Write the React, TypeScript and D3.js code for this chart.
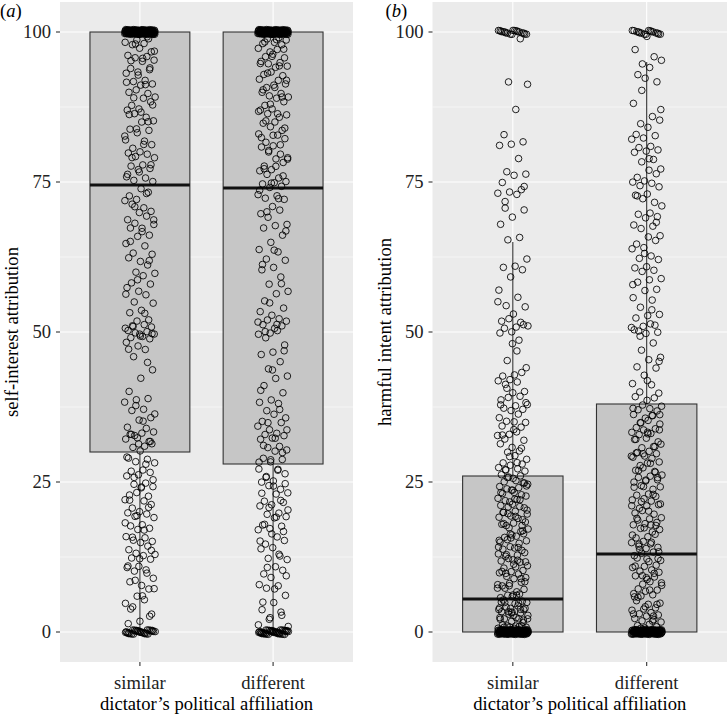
import React, { useEffect, useRef } from "react";
import * as d3 from "d3";

const groups = ["similar", "different"];
const yTicks = [0, 25, 50, 75, 100];
const yMinor = [12.5, 37.5, 62.5, 87.5];

// box statistics: [lower whisker, Q1, median, Q3, upper whisker]
const selfBox = [
  [0, 30, 74.5, 100, 100],
  [0, 28, 74, 100, 100],
];
const harmBox = [
  [0, 0, 5.5, 26, 65],
  [0, 0, 13, 38, 95],
];

// answers piled up at the ends of the scale: [count at 0, count at 100]
const selfEnds = [
  [30, 120],
  [40, 115],
];
const harmEnds = [
  [110, 18],
  [105, 16],
];

// remaining answers (between 0 and 100)
const selfSimilar = [
  99, 99, 98, 98, 98, 97, 97, 96, 96, 96, 95, 95, 94, 94, 93, 93, 92, 92, 91, 91, 90, 90, 90, 89, 89, 88, 88, 87, 87, 86,
  86, 85, 85, 84, 84, 83, 82, 82, 81, 81, 80, 80, 80, 79, 79, 78, 78, 77, 77, 76, 76, 75, 75,
  74, 73, 73, 72, 72, 71, 71, 70, 70, 69, 69, 68, 68, 67, 67, 66, 66, 65, 64, 63, 63, 62, 62, 61, 60, 60, 59, 58, 58, 57,
  57, 56, 55, 55, 54, 53, 52, 52, 51, 51, 51, 51, 50, 50, 50, 50, 50, 49, 49, 49, 48, 48, 47, 46, 44, 42, 40, 39, 39, 38,
  37, 37, 36, 35, 34, 34, 33, 33, 33, 33, 32, 32, 32, 31, 31, 31, 30,
  29, 29, 28, 28, 27, 27, 27, 26, 26, 25, 25, 24, 24, 23, 23, 23, 22, 22, 21, 21, 20, 20, 20, 19, 19, 18, 18, 17, 17, 16,
  16, 15, 15, 15, 14, 14, 13, 13, 13, 12, 12, 11, 11, 10, 10, 9, 8, 8, 7, 6, 5, 5, 4, 3, 2, 1,
  99, 98, 97, 96, 95, 94, 93, 92, 91, 89, 88, 87, 86, 85, 84, 83, 81, 79, 78, 77, 76,
  73, 71, 69, 67, 65, 62, 59, 56, 53, 51, 50, 49, 47, 45, 38, 36, 35, 33, 32, 31,
  29, 28, 26, 25, 24, 22, 21, 19, 18, 17, 16, 14, 12, 11, 10, 9, 7, 6, 4, 3,
];
const selfDifferent = [
  99, 99, 99, 98, 98, 98, 97, 97, 97, 96, 96, 96, 95, 95, 95, 94, 94, 93, 93, 93, 92, 92, 91, 91, 91, 90, 90, 89, 89, 89,
  88, 88, 87, 87, 86, 86, 86, 85, 85, 84, 84, 83, 83, 82, 82, 81, 81, 80, 80, 79, 79, 78, 78, 77, 77, 76, 76, 75, 75, 75,
  74, 74, 73, 73, 72, 72, 71, 70, 70, 69, 68, 68, 67, 66, 65, 64, 63, 62, 62, 61, 60, 59, 58, 57, 56, 55, 54, 53, 53, 52,
  52, 52, 51, 51, 51, 50, 50, 50, 49, 48, 47, 46, 45, 44, 43, 42, 41, 40, 39, 38, 38, 37, 36, 36, 35, 35, 34, 34, 33, 33,
  33, 32, 32, 31, 31, 30, 30, 29, 29, 28,
  27, 27, 26, 26, 25, 25, 24, 24, 23, 23, 22, 22, 21, 21, 20, 20, 19, 19, 18, 18, 17, 17, 16, 15, 15, 14, 14, 13, 12, 12,
  11, 10, 10, 9, 8, 8, 7, 6, 5, 4, 3, 2, 1,
  99, 98, 97, 96, 95, 94, 93, 92, 91, 90, 89, 88, 87, 86, 85, 84, 83, 82, 81, 80, 79, 78, 77, 76, 75,
  74, 72, 70, 67, 64, 61, 58, 55, 52, 51, 50, 47, 44, 40, 37, 35, 34, 32, 31, 30, 29,
  28, 27, 26, 25, 24, 23, 22, 21, 20, 19, 18, 17, 16, 15, 13, 11, 9, 7, 5, 3, 2, 1,
];
const harmSimilar = [
  99, 92, 91, 87, 83, 82, 81, 81, 79, 77, 76, 76, 75, 74, 73, 73, 73, 72, 70, 69, 68, 66, 65,
  62, 61, 61, 60, 59, 57, 56, 54, 54, 53, 52, 52, 52, 51, 51, 51, 51, 50, 50, 49, 45, 44, 43, 43, 43, 42, 42, 42, 41, 40,
  40, 39, 39, 39, 38, 38, 37, 37, 37, 36, 36, 35, 35, 34, 34, 34, 33, 33, 33, 32, 32, 31, 31, 30, 30, 29, 29,
  28, 28, 28, 27, 27, 27, 27, 26, 26, 26, 26, 25, 25, 25, 25, 24, 24, 24, 24, 23, 23, 23, 23, 22, 22, 22, 22, 21, 21, 21,
  21, 20, 20, 20, 20, 19, 19, 19, 19, 18, 18, 18, 18, 17, 17, 17, 16, 16, 16, 16, 15, 15, 15, 15, 14, 14, 14, 14, 13, 13,
  13, 13, 12, 12, 12, 12, 11, 11, 11, 10, 10, 10, 10, 9, 9, 9, 8, 8, 8, 8, 7, 7, 7, 6, 6, 6, 6,
  5, 5, 5, 5, 4, 4, 4, 4, 4, 3, 3, 3, 3, 3, 2, 2, 2, 2, 2, 2, 1, 1, 1, 1, 1, 1, 1,
  28, 27, 25, 24, 23, 22, 21, 20, 19, 18, 17, 16, 15, 14, 13, 12, 11, 10, 9, 8, 7, 6, 5, 4, 3, 2, 1,
  26, 24, 22, 20, 18, 16, 14, 12, 10, 8, 6, 5, 4, 3, 2, 1, 1, 2, 3, 4, 5,
  41, 38, 35, 33, 31, 29, 55, 47, 71, 74, 48, 38,
];
const harmDifferent = [
  99, 97, 96, 95, 95, 94, 93, 92, 92, 88, 86, 85, 85, 84, 83, 83, 82, 82, 81, 81, 80, 80, 80, 79, 78, 77, 77, 76, 76, 75,
  75, 75, 74, 74, 73, 73, 72, 72, 71, 70, 70, 69, 69, 68, 68, 67, 66, 66, 65, 65, 64, 64, 63, 62, 62, 61, 61, 60, 60, 59,
  59, 58, 57, 57, 56, 55, 54, 53, 53, 52, 51, 51, 51, 51, 50, 50, 50, 50, 48, 47, 46, 45, 44, 44, 43, 41, 41, 40, 40, 39,
  39, 39, 38,
  38, 37, 37, 37, 36, 36, 36, 35, 35, 35, 34, 34, 34, 33, 33, 33, 32, 32, 32, 31, 31, 31, 30, 30, 30, 29, 29, 29, 28, 28,
  28, 27, 27, 27, 26, 26, 26, 25, 25, 25, 24, 24, 24, 23, 23, 23, 22, 22, 22, 21, 21, 21, 20, 20, 20, 19, 19, 19, 18, 18,
  18, 17, 17, 17, 16, 16, 16, 15, 15, 15, 14, 14, 14, 13, 13, 13,
  12, 12, 12, 11, 11, 11, 10, 10, 10, 9, 9, 9, 8, 8, 8, 7, 7, 7, 6, 6, 6, 5, 5, 5, 4, 4, 4, 3, 3, 3, 3, 2, 2, 2, 2, 1, 1,
  1, 1,
  37, 36, 35, 34, 33, 32, 31, 30, 29, 28, 27, 26, 25, 24, 23, 22, 21, 20, 19, 18, 17, 16, 15, 14, 13, 12, 11, 10, 9, 8,
  7, 6, 5, 4, 3, 2, 1, 36, 33, 30, 27, 24, 21, 18, 15, 12, 9, 6, 3,
  90, 87, 79, 73, 68, 63, 58, 54, 49, 45, 42,
];

const FONT = "'Liberation Serif', 'Times New Roman', serif";
const FS = "18.6px";

type Panel = {
  tag: string;
  ytitle: string;
  left: number;
  right: number;
  titleX: number;
  boxes: number[][];
  ends: number[][];
  values: number[][];
};

const panels: Panel[] = [
  {
    tag: "a",
    ytitle: "self-interest attribution",
    left: 60,
    right: 353,
    titleX: 12,
    boxes: selfBox,
    ends: selfEnds,
    values: [selfSimilar, selfDifferent],
  },
  {
    tag: "b",
    ytitle: "harmful intent attribution",
    left: 432.5,
    right: 727,
    titleX: 385,
    boxes: harmBox,
    ends: harmEnds,
    values: [harmSimilar, harmDifferent],
  },
];

// deterministic jitter offsets (low-discrepancy sequence, in [-1, 1])
const jit = (i: number, a: number) => ((i * a) % 1) * 2 - 1;

const App = () => {
  const ref = useRef<SVGSVGElement | null>(null);

  useEffect(() => {
    const svg = d3.select(ref.current);
    svg.selectAll("*").remove();

    const top = 2;
    const bottom = 662;
    const y = d3.scaleLinear().domain([-5, 105]).range([bottom, top]);

    panels.forEach((p) => {
      const x = d3.scaleLinear().domain([0.4, 2.6]).range([p.left, p.right]);
      const unit = x(1) - x(0);
      const g = svg.append("g");

      g.append("rect")
        .attr("x", p.left)
        .attr("y", top)
        .attr("width", p.right - p.left)
        .attr("height", bottom - top)
        .attr("fill", "#ebebeb");

      g.selectAll("line.minor")
        .data(yMinor)
        .enter()
        .append("line")
        .attr("x1", p.left)
        .attr("x2", p.right)
        .attr("y1", (d) => y(d))
        .attr("y2", (d) => y(d))
        .attr("stroke", "#fff")
        .attr("stroke-width", 0.55);

      g.selectAll("line.major")
        .data(yTicks)
        .enter()
        .append("line")
        .attr("x1", p.left)
        .attr("x2", p.right)
        .attr("y1", (d) => y(d))
        .attr("y2", (d) => y(d))
        .attr("stroke", "#fff")
        .attr("stroke-width", 1.1);

      g.selectAll("line.vmajor")
        .data(groups)
        .enter()
        .append("line")
        .attr("x1", (d, i) => x(i + 1))
        .attr("x2", (d, i) => x(i + 1))
        .attr("y1", top)
        .attr("y2", bottom)
        .attr("stroke", "#fff")
        .attr("stroke-width", 1.1);

      // boxplots
      p.boxes.forEach((b, i) => {
        const cx = x(i + 1);
        const hw = unit * 0.375;
        g.append("line")
          .attr("x1", cx)
          .attr("x2", cx)
          .attr("y1", y(b[0]))
          .attr("y2", y(b[1]))
          .attr("stroke", "#333")
          .attr("stroke-width", 1.1);
        g.append("line")
          .attr("x1", cx)
          .attr("x2", cx)
          .attr("y1", y(b[3]))
          .attr("y2", y(b[4]))
          .attr("stroke", "#333")
          .attr("stroke-width", 1.1);
        g.append("rect")
          .attr("x", cx - hw)
          .attr("width", hw * 2)
          .attr("y", y(b[3]))
          .attr("height", y(b[1]) - y(b[3]))
          .attr("fill", "#c6c6c6")
          .attr("stroke", "#333")
          .attr("stroke-width", 1.1);
        g.append("line")
          .attr("x1", cx - hw)
          .attr("x2", cx + hw)
          .attr("y1", y(b[2]))
          .attr("y2", y(b[2]))
          .attr("stroke", "#111")
          .attr("stroke-width", 3);
      });

      // jittered points
      p.values.forEach((vals, i) => {
        const all = [
          ...d3.range(p.ends[i][1]).map(() => 100),
          ...vals,
          ...d3.range(p.ends[i][0]).map(() => 0),
        ];
        g.append("g")
          .selectAll("circle")
          .data(all)
          .enter()
          .append("circle")
          .attr("cx", (d, k) => x(i + 1 + jit(k + 1, 0.6180339887) * 0.115))
          .attr("cy", (d, k) => y(d + jit(k + 1, 0.7548776662) * 0.4))
          .attr("r", 3.3)
          .attr("fill", "none")
          .attr("stroke", "#000")
          .attr("stroke-opacity", 0.9)
          .attr("stroke-width", 0.95);
      });

      // y axis
      g.selectAll("line.ytick")
        .data(yTicks)
        .enter()
        .append("line")
        .attr("x1", p.left - 4)
        .attr("x2", p.left)
        .attr("y1", (d) => y(d))
        .attr("y2", (d) => y(d))
        .attr("stroke", "#333")
        .attr("stroke-width", 1.1);
      g.selectAll("text.ylab")
        .data(yTicks)
        .enter()
        .append("text")
        .attr("x", p.left - 9)
        .attr("y", (d) => y(d))
        .attr("dy", "0.34em")
        .attr("text-anchor", "end")
        .attr("fill", "#222")
        .style("font-family", FONT)
        .style("font-size", FS)
        .text((d) => d);

      // x axis
      g.selectAll("line.xtick")
        .data(groups)
        .enter()
        .append("line")
        .attr("x1", (d, i) => x(i + 1))
        .attr("x2", (d, i) => x(i + 1))
        .attr("y1", bottom)
        .attr("y2", bottom + 4)
        .attr("stroke", "#333")
        .attr("stroke-width", 1.1);
      g.selectAll("text.xlab")
        .data(groups)
        .enter()
        .append("text")
        .attr("x", (d, i) => x(i + 1))
        .attr("y", 689)
        .attr("text-anchor", "middle")
        .attr("fill", "#222")
        .style("font-family", FONT)
        .style("font-size", FS)
        .text((d) => d);

      g.append("text")
        .attr("x", (p.left + p.right) / 2)
        .attr("y", 710)
        .attr("text-anchor", "middle")
        .attr("fill", "#000")
        .style("font-family", FONT)
        .style("font-size", FS)
        .text("dictator\u2019s political affiliation");

      g.append("text")
        .attr("transform", `translate(${p.titleX},${(top + bottom) / 2}) rotate(-90)`)
        .attr("text-anchor", "middle")
        .attr("dy", "0.34em")
        .attr("fill", "#000")
        .style("font-family", FONT)
        .style("font-size", FS)
        .text(p.ytitle);

      const tag = g
        .append("text")
        .attr("x", p.left - 60 + (p.tag === "b" ? 13 : 0))
        .attr("y", 17)
        .attr("fill", "#000")
        .style("font-family", FONT)
        .style("font-size", FS);
      tag.append("tspan").text("(");
      tag.append("tspan").style("font-style", "italic").text(p.tag);
      tag.append("tspan").text(")");
    });
  }, []);

  return (
    <div style={{ position: "absolute", left: 0, top: 0 }}>
      <svg ref={ref} width={728} height={716} style={{ display: "block", background: "#fff" }}></svg>
    </div>
  );
};

export default App;
